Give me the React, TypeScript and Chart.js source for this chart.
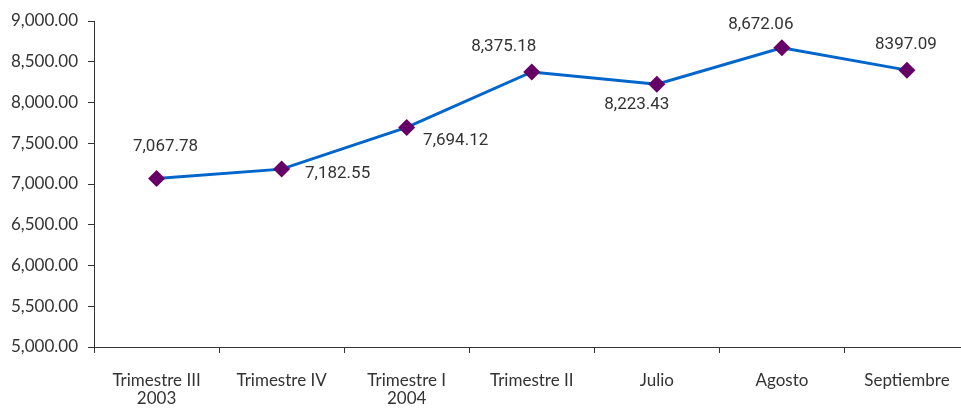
import React, { useEffect, useRef } from "react";
import { Chart, registerables } from "chart.js";

Chart.register(...registerables);

const categories: (string | string[])[] = [
  ["Trimestre III", "2003"],
  "Trimestre IV",
  ["Trimestre I", "2004"],
  "Trimestre II",
  "Julio",
  "Agosto",
  "Septiembre",
];
const values = [7067.78, 7182.55, 7694.12, 8375.18, 8223.43, 8672.06, 8397.09];
const valueLabels = ["7,067.78", "7,182.55", "7,694.12", "8,375.18", "8,223.43", "8,672.06", "8397.09"];
const yMin = 5000;
const yMax = 9000;
const yStep = 500;

// label placement (style): offset of label centre from point
const labelOffsets: [number, number][] = [
  [9, -32],
  [56, 5],
  [49, 13],
  [-28, -25],
  [-20, 20],
  [-21, -23],
  [-1, -25],
];

const TEXT = "#333333";
const AXIS_FONT = "'Lato', 'Noto Sans', sans-serif";
const LABEL_FONT = "Roboto, 'Noto Sans', sans-serif";
const W = 978;

const dataLabelPlugin = {
  id: "dataLabels",
  afterDatasetsDraw(chart: any) {
    const meta = chart.getDatasetMeta(0);
    const ctx = chart.ctx;
    ctx.save();
    ctx.font = `17px ${LABEL_FONT}`;
    ctx.fillStyle = TEXT;
    ctx.textAlign = "center";
    ctx.textBaseline = "middle";
    meta.data.forEach((pt: any, i: number) => {
      const [dx, dy] = labelOffsets[i];
      ctx.fillText(valueLabels[i], pt.x + dx, pt.y + dy);
    });
    ctx.restore();
  },
};

export default function App() {
  const ref = useRef<HTMLCanvasElement | null>(null);
  useEffect(() => {
    if (!ref.current) return;
    const chart = new Chart(ref.current, {
      type: "line",
      data: {
        labels: categories as any,
        datasets: [
          {
            data: values,
            borderColor: "#0066CC",
            borderWidth: 3,
            pointStyle: "rectRot",
            pointRadius: 8.5,
            pointBackgroundColor: "#660066",
            pointBorderColor: "#660066",
            pointBorderWidth: 0,
            tension: 0,
          },
        ],
      },
      options: {
        animation: false,
        responsive: false,
        maintainAspectRatio: false,
        layout: { padding: { top: 21, left: 0, right: 0, bottom: 0 } },
        plugins: {
          legend: { display: false },
          tooltip: { enabled: false },
        },
        scales: {
          x: {
            offset: true,
            grid: {
              offset: true,
              drawOnChartArea: false,
              drawTicks: true,
              tickLength: 6,
              color: "#333333",
            },
            border: { display: true, color: "#333333", width: 1 },
            ticks: {
              color: TEXT,
              font: { family: AXIS_FONT, size: 17, lineHeight: 1.08 },
              padding: 18,
              maxRotation: 0,
              autoSkip: false,
            },
            afterFit(scale: any) {
              scale.height = 61;
            },
          },
          y: {
            min: yMin,
            max: yMax,
            ticks: {
              stepSize: yStep,
              color: TEXT,
              font: { family: AXIS_FONT, size: 17 },
              padding: 10,
              callback: (v: any) =>
                Number(v).toLocaleString("en-US", { minimumFractionDigits: 2, maximumFractionDigits: 2 }),
            },
            grid: {
              drawOnChartArea: false,
              drawTicks: true,
              tickLength: 6,
              color: "#333333",
            },
            border: { display: true, color: "#333333", width: 1 },
            afterFit(scale: any) {
              scale.width = 94;
            },
          },
        },
      },
      plugins: [dataLabelPlugin],
    });
    return () => chart.destroy();
  }, []);
  return (
    <div style={{ position: "fixed", left: 0, top: 0, width: W, height: 408, background: "#fff" }}>
      <canvas ref={ref} width={W} height={408} style={{ width: W, height: 408 }} />
    </div>
  );
}
